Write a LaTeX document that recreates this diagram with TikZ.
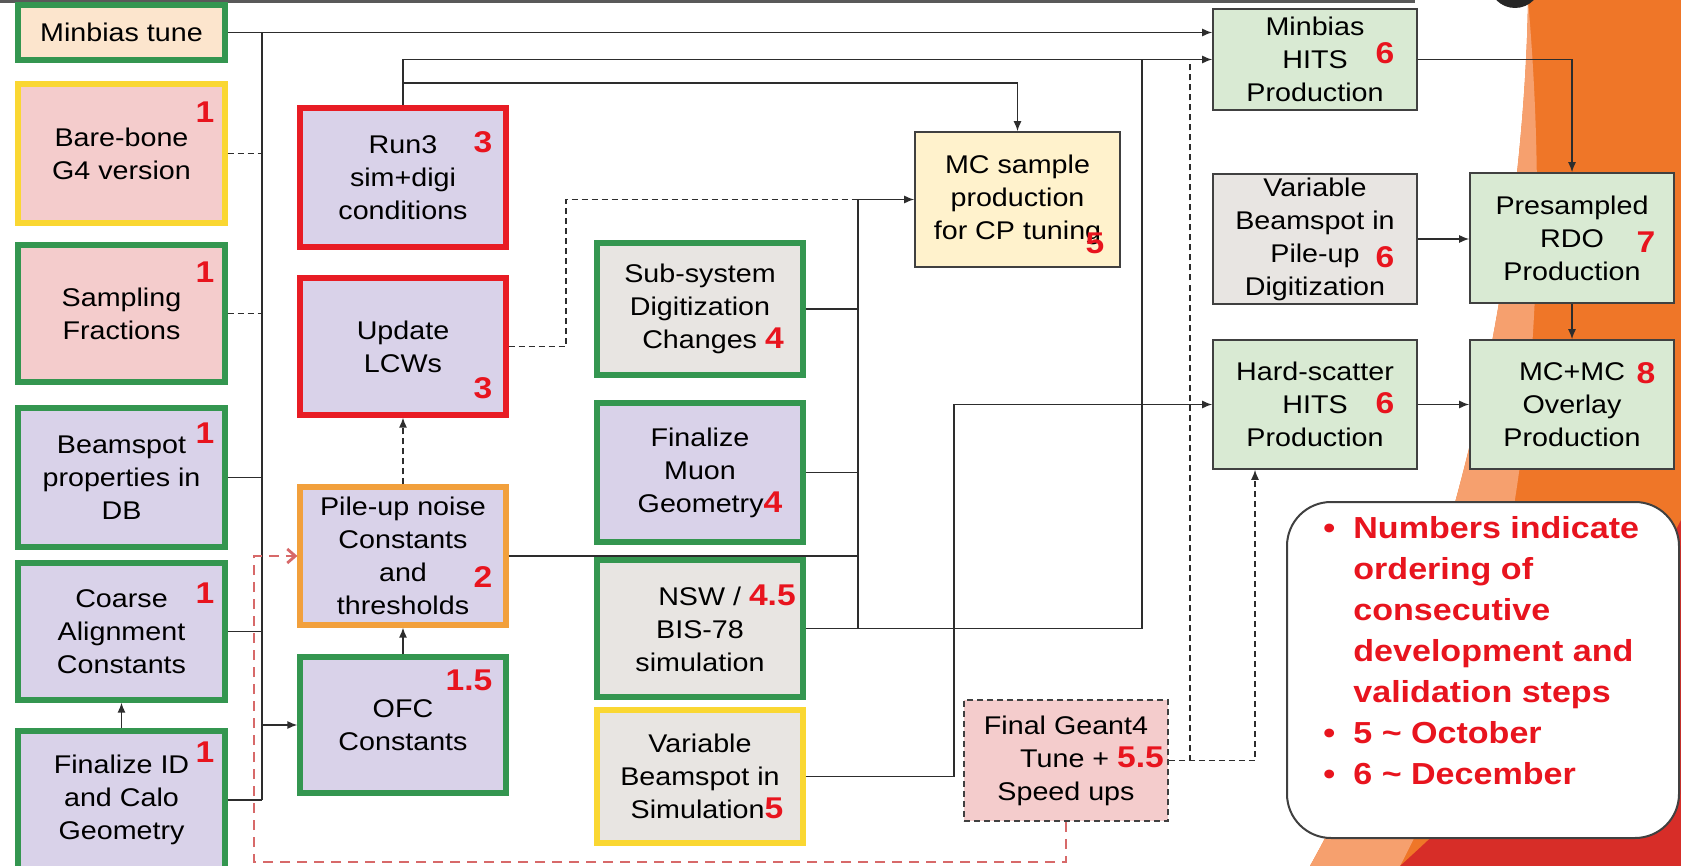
\documentclass[tikz,border=0pt]{standalone}
\usepackage{fontspec}
\setmainfont{Liberation Sans}[FakeStretch=1.12]
\usepackage{xcolor}
\usetikzlibrary{shapes, positioning, arrows.meta}

\definecolor{boxgreen}{RGB}{52,150,80}
\definecolor{boxyellow}{RGB}{250,215,50}
\definecolor{boxred}{RGB}{232,28,36}
\definecolor{boxorange}{RGB}{242,160,60}
\definecolor{boxdark}{RGB}{64,64,64}
\definecolor{lav}{RGB}{217,210,233}
\definecolor{pinkf}{RGB}{244,204,204}
\definecolor{peach}{RGB}{252,229,205}
\definecolor{grayf}{RGB}{232,229,226}
\definecolor{yellowf}{RGB}{255,242,204}
\definecolor{greenf}{RGB}{217,234,211}
\definecolor{numred}{RGB}{232,20,30}
\definecolor{linedark}{RGB}{45,45,45}
\definecolor{pinkline}{RGB}{215,105,105}
\definecolor{bgorange}{RGB}{239,118,40}
\definecolor{bglight}{RGB}{246,160,110}
\definecolor{bgred}{RGB}{215,45,40}

\newcommand{\nro}[1]{{\color{numred}\fontsize{15}{15}\bfseries\selectfont #1}}

\begin{document}
\begin{tikzpicture}[x=0.5pt, y=-0.5pt,
    base/.style={rectangle, align=center, inner sep=0pt, text=black,
      font=\fontsize{12.8}{16.5}\selectfont},
    wh/.style 2 args={minimum width=#1*0.5pt, minimum height=#2*0.5pt},
    gbox/.style={base, draw=boxgreen, line width=2.6pt},
    ybox/.style={base, draw=boxyellow, line width=2.6pt},
    rbox/.style={base, draw=boxred, line width=2.6pt},
    obox/.style={base, draw=boxorange, line width=2.6pt},
    tbox/.style={base, draw=boxdark, line width=0.8pt},
    num/.style={inner sep=0pt, text=numred, font=\fontsize{15}{15}\bfseries\selectfont},
    conn/.style={draw=linedark, line width=0.7pt},
    arr/.style={conn, -{Latex[length=5pt,width=4pt]}},
    dsh/.style={dash pattern=on 3pt off 2pt},
    pinkdsh/.style={draw=pinkline, line width=1.4pt, dash pattern=on 5pt off 3.5pt}]
  \useasboundingbox (0,0) rectangle (1681,866);

  % Fondo de la diapositiva
  \fill[bgorange] (1528,0) .. controls (1525,200) and (1480,560) .. (1310,866) -- (1681,866) -- (1681,0) -- cycle;
  \fill[bglight] (1528,0) .. controls (1525,200) and (1480,560) .. (1310,866) -- (1400,866) .. controls (1540,600) and (1550,250) .. (1528,0) -- cycle;
  \fill[bgred] (1400,866) .. controls (1540,740) and (1630,620) .. (1681,520) -- (1681,866) -- cycle;
  \fill[black!85] (1515,-18) circle (26);
  \draw[black!65, line width=1.5pt] (0,1.5) -- (1415,1.5);

  % Primera columna
  \node[gbox, wh={207}{55}, fill=peach] (mbtune) at (121.5,32.5) {Minbias tune};
  \node[ybox, wh={207}{139}, fill=pinkf] (barebone) at (121.5,153.5) {Bare-bone\\G4 version};
  \node[gbox, wh={207}{137}, fill=pinkf] (sampling) at (121.5,313.5) {Sampling\\Fractions};
  \node[gbox, wh={207}{139}, fill=lav] (beamspot) at (121.5,477.5) {Beamspot\\properties in\\DB};
  \node[gbox, wh={207}{137}, fill=lav] (coarse) at (121.5,631.5) {Coarse\\Alignment\\Constants};
  \node[gbox, wh={207}{138}, fill=lav] (finid) at (121.5,800) {Finalize ID\\and Calo\\Geometry};

  % Segunda columna
  \node[rbox, wh={206}{139}, fill=lav] (run3) at (403,177.5) {Run3\\sim+digi\\conditions};
  \node[rbox, wh={206}{137}, fill=lav] (lcw) at (403,346.5) {Update\\LCWs};
  \node[obox, wh={206}{138}, fill=lav] (pileup) at (403,556) {Pile-up noise\\Constants\\and\\thresholds};
  \node[gbox, wh={206}{136}, fill=lav] (ofc) at (403,725) {OFC\\Constants};

  % Tercera columna
  \node[gbox, wh={206}{132}, fill=grayf] (subsys) at (700,309) {Sub-system\\Digitization\\\hspace*{13pt}Changes \nro{4}};
  \node[gbox, wh={206}{139}, fill=lav] (muon) at (700,472.5) {Finalize\\Muon\\\hspace*{10pt}Geometry\nro{4}};
  \node[gbox, wh={206}{137}, fill=grayf] (nsw) at (700,628.5) {\hspace*{27pt}NSW / \nro{4.5}\\BIS-78\\simulation};
  \node[ybox, wh={206}{133}, fill=grayf] (vbsim) at (700,776.5) {Variable\\Beamspot in\\\hspace*{7pt}Simulation\nro{5}};

  % Centro
  \node[tbox, wh={205}{135}, fill=yellowf] (mcs) at (1017.5,199.5) {MC sample\\production\\for CP tuning};
  \node[tbox, wh={204}{121}, fill=pinkf, dsh] (fg4) at (1066,760.5) {Final Geant4\\\hspace*{26pt}Tune + \nro{5.5}\\Speed ups};

  % Columnas de la derecha
  \node[tbox, wh={204}{101}, fill=greenf] (mbhits) at (1315,59.5) {Minbias\\HITS\\Production};
  \node[tbox, wh={204}{130}, fill=grayf] (vbdigi) at (1315,239) {Variable\\Beamspot in\\Pile-up\\Digitization};
  \node[tbox, wh={204}{129}, fill=greenf] (hshits) at (1315,404.5) {Hard-scatter\\HITS\\Production};
  \node[tbox, wh={204}{130}, fill=greenf] (presamp) at (1572,238) {Presampled\\RDO\\Production};
  \node[tbox, wh={204}{129}, fill=greenf] (overlay) at (1572,404.5) {MC+MC\\Overlay\\Production};

  % Numeros de orden
  \node[num] (nbare) at (205,112) {1};
  \node[num] (nsamp) at (205,272) {1};
  \node[num] (nbeam) at (205,433) {1};
  \node[num] (ncoarse) at (205,593) {1};
  \node[num] (nfinid) at (205,752) {1};
  \node[num] (nrun3) at (483,142) {3};
  \node[num] (nlcw) at (483,388) {3};
  \node[num] (npileup) at (483,577) {2};
  \node[num] (nofc) at (469,680) {1.5};
  \node[num] (nmcs) at (1095,243) {5};
  \node[num] (nmbhits) at (1385,53) {6};
  \node[num] (nvbdigi) at (1385,257) {6};
  \node[num] (nhshits) at (1385,403) {6};
  \node[num] (npresamp) at (1646,242) {7};
  \node[num] (noverlay) at (1646,373) {8};

  % Puntos auxiliares
  \coordinate (bus) at (262,0);
  \coordinate (lcwx) at (566,0);
  \coordinate (jmc) at (858,0);
  \coordinate (jhs) at (954,0);
  \coordinate (jmb) at (1142,0);
  \coordinate (dmb) at (1190,0);
  \coordinate (dhs) at (1255,0);
  \coordinate (mcy) at (0,83);
  \coordinate (pk) at (254,862);

  % Barra vertical izquierda
  \draw[arr] (mbtune.east) -- (mbtune.east -| mbhits.west);
  \draw[conn] (mbtune.east -| bus) -- (finid.east -| bus);
  \draw[conn, dsh] (barebone.east) -- (barebone.east -| bus);
  \draw[conn, dsh] (sampling.east) -- (sampling.east -| bus);
  \draw[conn] (beamspot.east) -- (beamspot.east -| bus);
  \draw[conn] (coarse.east) -- (coarse.east -| bus);
  \draw[conn] (finid.east) -- (finid.east -| bus);
  \draw[arr] (ofc.west -| bus) -- (ofc.west);
  \draw[arr] (finid.north) -- (coarse.south);
  \draw[arr] (ofc.north) -- (pileup.south);
  \draw[arr, dsh] (pileup.north) -- (lcw.south);

  % Hacia MC sample y Minbias HITS
  \draw[conn, dsh] (lcw.east) -| (lcwx |- mcs.west) -- (mcs.west -| jmc);
  \draw[arr] (mcs.west -| jmc) -- (mcs.west);
  \draw[arr] (run3.north) |- (mbhits.west);
  \draw[arr] (run3.north |- mcy) -| (mcs.north);
  \draw[conn] (subsys.east) -- (subsys.east -| jmc);
  \draw[conn] (muon.east) -- (muon.east -| jmc);
  \draw[conn] (pileup.east) -- (pileup.east -| jmc);
  \draw[conn] (nsw.east -| jmc) -- (mcs.west -| jmc);
  \draw[conn] (nsw.east) -- (nsw.east -| jmb) -- (jmb |- mbhits.west);
  \draw[arr] (vbsim.east) -| (jhs |- hshits.west) -- (hshits.west);

  % Lineas de Final Geant4
  \draw[arr, dsh] (fg4.east) -| (dhs |- hshits.south);
  \draw[conn, dsh] (fg4.east -| dmb) -- (dmb |- mbhits.west);
  \draw[pinkdsh, -{Straight Barb[length=4pt,width=7pt]}] (fg4.south) |- (pk) |- (pileup.west);

  % Produccion
  \draw[arr] (mbhits.east) -| (presamp.north);
  \draw[arr] (vbdigi.east) -- (vbdigi.east -| presamp.west);
  \draw[arr] (presamp.south) -- (overlay.north);
  \draw[arr] (hshits.east) -- (overlay.west);

  % Leyenda
  \draw[boxdark, line width=1pt, fill=white, rounded corners=22pt] (1287,502) rectangle (1679,838);
  \node[anchor=north west, align=left, inner sep=0pt, text=numred,
        font=\fontsize{15.2}{20.5}\bfseries\selectfont] (legend) at (1353,516)
    {\llap{\textbullet\hspace{9pt}}Numbers indicate\\ordering of\\consecutive\\development and\\validation steps\\
     \llap{\textbullet\hspace{9pt}}5 \textasciitilde{} October\\\llap{\textbullet\hspace{9pt}}6 \textasciitilde{} December};
\end{tikzpicture}
\end{document}
